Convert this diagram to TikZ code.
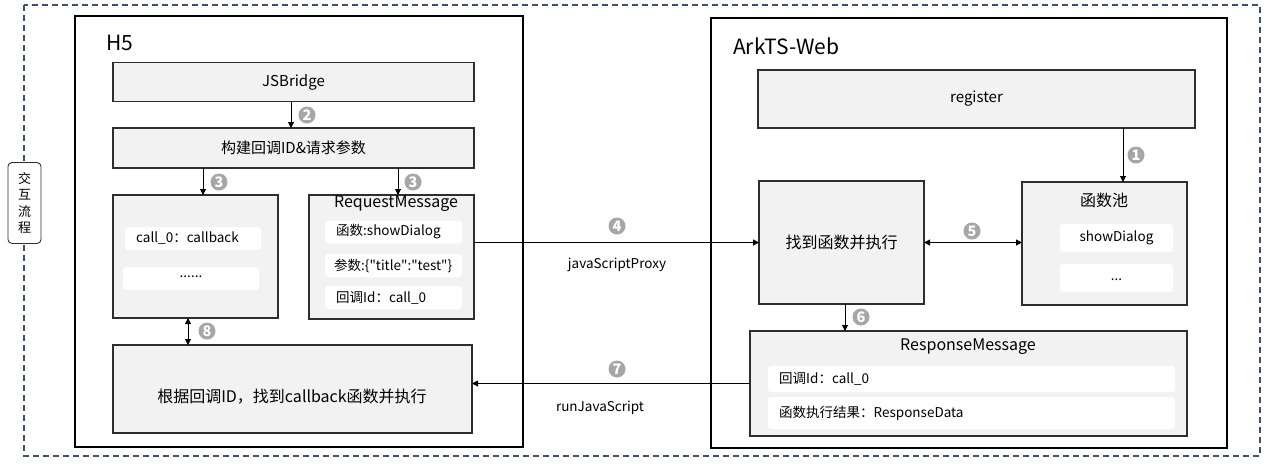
\documentclass[tikz,border=0pt]{standalone}
\usepackage{fontspec}
\setmainfont{Noto Sans CJK SC}
\newfontfamily\nomapfont{Noto Sans CJK SC}
\usetikzlibrary{arrows.meta,calc}
\definecolor{boxfill}{HTML}{F2F2F2}
\definecolor{boxline}{HTML}{2E2E2E}
\definecolor{badgec}{HTML}{A6A6A6}
\definecolor{dashc}{HTML}{3E5070}
\newcommand{\dq}{{\nomapfont\char34}}
\begin{document}
\begin{tikzpicture}[x=1pt,y=-1pt,
  frame/.style={draw=black, line width=1.1pt, fill=white, anchor=north west, inner sep=0pt, outer sep=0pt},
  gbox/.style={draw=boxline, line width=1.4pt, fill=boxfill, anchor=north west, inner sep=0pt, outer sep=0pt, font=\fontsize{15}{18}\selectfont},
  rowbox/.style={fill=white, rounded corners=3pt, anchor=north west, inner sep=0pt, outer sep=0pt},
  rowtxt/.style={font=\fontsize{13.5}{16}\selectfont, inner sep=0pt},
  ttl/.style={font=\fontsize{21}{24}\selectfont, inner sep=0pt, anchor=west},
  subttl/.style={font=\fontsize{16}{19}\selectfont, inner sep=0pt},
  lbl/.style={font=\fontsize{13.5}{16}\selectfont, inner sep=0pt},
  badge/.style={circle, fill=badgec, text=white, inner sep=0pt, minimum size=17pt, font=\fontsize{14.5}{15}\selectfont\bfseries},
  arr/.style={draw=black, line width=1pt, -{Triangle[length=6pt,width=6pt]}},
  darr/.style={draw=black, line width=1pt, {Triangle[length=6pt,width=6pt]}-{Triangle[length=6pt,width=6pt]}}
]
\useasboundingbox (0,0) rectangle (1269,464);
% outer dashed frame
\draw[dashc, line width=1.2pt, dash pattern=on 6pt off 4pt] (24,5) rectangle (1260,456);
\node[draw=boxline, line width=0.9pt, fill=white, rounded corners=4pt, minimum width=33pt, minimum height=81pt, inner sep=0pt, align=center, font=\fontsize{13}{16.5}\selectfont] (side) at (24.5,203) {交\\互\\流\\程};

% H5 side
\node[frame, minimum width=448pt, minimum height=431pt] (h5) at (75,16) {};
\node[ttl] (h5t) at (106,43) {H5};
\node[gbox, minimum width=361pt, minimum height=39pt] (jsb) at (113,62.5) {JSBridge};
\node[gbox, minimum width=361pt, minimum height=40pt] (build) at (113,128) {构建回调ID\&请求参数};
\node[gbox, minimum width=165pt, minimum height=123pt] (cb) at (113,195) {};
\node[gbox, minimum width=165pt, minimum height=124pt] (req) at (309,195) {};
\node[subttl] (reqt) at (396,204) {RequestMessage};
\node[rowbox, minimum width=136pt, minimum height=23pt] (cb1) at (125,227) {};
\node[rowtxt, anchor=west] (cb1t) at (136,238.5) {call\_0：callback};
\node[rowbox, minimum width=136pt, minimum height=23pt] (cb2) at (123,267) {};
\node[rowtxt] (cb2t) at (191,277) {......};
\node[rowbox, minimum width=137pt, minimum height=23pt] (rq1) at (325,220.5) {};
\node[rowtxt, anchor=west] (rq1t) at (336,232) {函数:showDialog};
\node[rowbox, minimum width=137pt, minimum height=23pt] (rq2) at (325,254) {};
\node[rowtxt, anchor=west] (rq2t) at (334,265.5) {参数:\{\dq title\dq:\dq test\dq\}};
\node[rowbox, minimum width=137pt, minimum height=23pt] (rq3) at (325,286) {};
\node[rowtxt, anchor=west] (rq3t) at (336,297.5) {回调Id：call\_0};
\node[gbox, minimum width=359pt, minimum height=88pt] (root) at (113,345) {};
\node[font=\fontsize{16}{19}\selectfont, inner sep=0pt] (roott) at (292,397) {根据回调ID，找到callback函数并执行};

% ArkTS side
\node[frame, minimum width=516pt, minimum height=430pt] (ark) at (711,18) {};
\node[ttl] (arkt) at (733,46) {ArkTS-Web};
\node[gbox, minimum width=437pt, minimum height=58pt] (reg) at (758,70) {register};
\node[gbox, minimum width=165pt, minimum height=123pt, font=\fontsize{16}{19}\selectfont] (find) at (759,181) {找到函数并执行};
\node[gbox, minimum width=165pt, minimum height=123pt] (pool) at (1022,182) {};
\node[subttl] (poolt) at (1104,200) {函数池};
\node[rowbox, minimum width=113pt, minimum height=28pt] (pl1) at (1060,224) {};
\node[rowtxt] (pl1t) at (1116.5,238) {showDialog};
\node[rowbox, minimum width=113pt, minimum height=28pt] (pl2) at (1060,264) {};
\node[rowtxt] (pl2t) at (1116.5,280) {...};
\node[gbox, minimum width=437pt, minimum height=105pt] (resp) at (750,331) {};
\node[subttl] (respt) at (968,347) {ResponseMessage};
\node[rowbox, minimum width=407pt, minimum height=26pt] (rs1) at (768,366) {};
\node[rowtxt, anchor=west] (rs1t) at (779,379) {回调Id：call\_0};
\node[rowbox, minimum width=407pt, minimum height=32pt] (rs2) at (768,397) {};
\node[rowtxt, anchor=west] (rs2t) at (779,413) {函数执行结果：ResponseData};

% helper coordinates
\coordinate (x2) at (291,0);
\coordinate (x3a) at (203,0);
\coordinate (x3b) at (398,0);
\coordinate (x8) at (188,0);
\coordinate (x1) at (1123,0);
\coordinate (x6) at (845,0);

% connectors
\draw[arr] (jsb.south -| x2) -- (build.north -| x2);
\draw[arr] (build.south -| x3a) -- (cb.north -| x3a);
\draw[arr] (build.south -| x3b) -- (req.north -| x3b);
\draw[darr] (cb.south -| x8) -- (root.north -| x8);
\draw[arr] (req.east |- find.west) -- (find.west);
\draw[arr] (resp.west) -- (root.east |- resp.west);
\draw[arr] (reg.south -| x1) -- (pool.north -| x1);
\draw[darr] (find.east) -- (find.east -| pool.west);
\draw[arr] (find.south -| x6) -- (resp.north -| x6);

% labels
\node[lbl] (l4) at (617,265) {javaScriptProxy};
\node[lbl] (l7) at (600,408) {runJavaScript};

% badges
\node[badge] (b1) at (1136,155) {1};
\node[badge] (b2) at (307,115) {2};
\node[badge] (b3a) at (219,182) {3};
\node[badge] (b3b) at (413,182) {3};
\node[badge] (b4) at (617,226) {4};
\node[badge] (b5) at (972,231) {5};
\node[badge] (b6) at (861,317) {6};
\node[badge] (b7) at (617,369) {7};
\node[badge] (b8) at (207,331) {8};
\end{tikzpicture}
\end{document}
